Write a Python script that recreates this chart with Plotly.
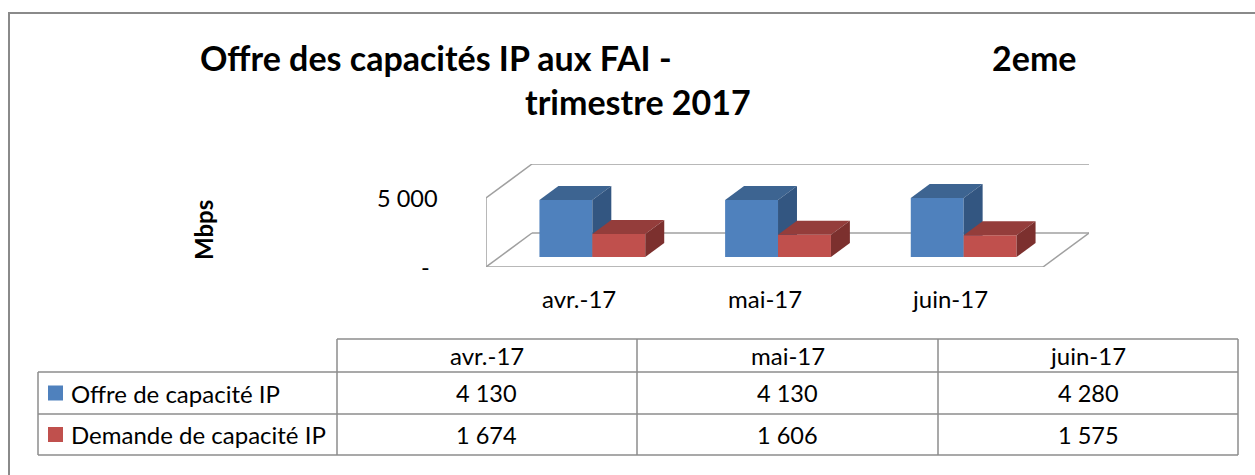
import plotly.graph_objects as go

# ---------------- data ----------------
categories = ["avr.-17", "mai-17", "juin-17"]
series_names = ["Offre de capacité IP", "Demande de capacité IP"]
offre = [4130, 4130, 4280]
demande = [1674, 1606, 1575]
value_tick_vals = [0, 5000]
value_tick_text = ["-", "5 000"]
title_line1_left = "Offre des capacités IP aux FAI -"
title_line1_right = "2eme"
title_line2 = "trimestre 2017"
axis_title = "Mbps"

# ---------------- styling / geometry ----------------
FIG_W, FIG_H = 1255, 475
FONT = "Lato"
TXT = 24
NUM = 23.5
TITLE = 34
front_colors = ["#4F81BD", "#C0504D"]
top_colors = ["#3D6491", "#943D3B"]
side_colors = ["#335681", "#7C302E"]
WALL_COLOR = "#A0A0A0"
GRID_COLOR = "#8C8C8C"

FRONT_LEFT, FRONT_RIGHT = 486, 1043
FLOOR_Y, TOP_FRONT_Y = 267, 198
DEPTH_DX, DEPTH_DY = 46, 34
VMAX = 5000
ncat = len(categories)
cat_w = (FRONT_RIGHT - FRONT_LEFT) / ncat
k = (FLOOR_Y - TOP_FRONT_Y) / VMAX
DXu = DEPTH_DX / cat_w
DYu = DEPTH_DY / k
D0, D1 = 0.294, 0.706
BW = 0.285


def px(x):
    return x / FIG_W


def py(y):
    return 1 - y / FIG_H


def P(x, v, d):
    return (x + d * DXu, v + d * DYu)


fig = go.Figure()

# walls / floor outline
segs = [
    ((0, 0, 0), (0, VMAX, 0)),
    ((0, VMAX, 0), (0, VMAX, 1)),
    ((0, 0, 0), (0, 0, 1)),
    ((0, VMAX, 1), (ncat, VMAX, 1)),
    ((0, 0, 1), (ncat, 0, 1)),
    ((0, 0, 0), (ncat, 0, 0)),
    ((ncat, 0, 0), (ncat, 0, 1)),
]
wx, wy = [], []
for a, b in segs:
    pa, pb = P(*a), P(*b)
    wx += [pa[0], pb[0], None]
    wy += [pa[1], pb[1], None]
fig.add_trace(go.Scatter(x=wx, y=wy, mode="lines",
                         line=dict(color=WALL_COLOR, width=1.5),
                         hoverinfo="skip", showlegend=False))


def add_poly(pts, color, name):
    xs = [p[0] for p in pts] + [pts[0][0]]
    ys = [p[1] for p in pts] + [pts[0][1]]
    fig.add_trace(go.Scatter(x=xs, y=ys, mode="lines", fill="toself",
                             fillcolor=color, line=dict(width=0, color=color),
                             name=name, hoverinfo="skip", showlegend=False))


series = [offre, demande]
for i in range(ncat):
    for s, vals in enumerate(series):
        v = vals[i]
        x0 = i + 0.5 - BW + s * BW
        x1 = x0 + BW
        front = [P(x0, 0, D0), P(x1, 0, D0), P(x1, v, D0), P(x0, v, D0)]
        top = [P(x0, v, D0), P(x1, v, D0), P(x1, v, D1), P(x0, v, D1)]
        side = [P(x1, 0, D0), P(x1, 0, D1), P(x1, v, D1), P(x1, v, D0)]
        add_poly(front, front_colors[s], series_names[s])
        add_poly(top, top_colors[s], series_names[s])
        add_poly(side, side_colors[s], series_names[s])

annotations = []
shapes = []

# title
annotations.append(dict(text="<b>" + title_line1_left + "</b>", xref="paper", yref="paper",
                        x=px(198), y=py(57), xanchor="left", yanchor="middle",
                        showarrow=False, font=dict(family=FONT, size=TITLE, color="black")))
annotations.append(dict(text="<b>" + title_line1_right + "</b>", xref="paper", yref="paper",
                        x=px(1079), y=py(57), xanchor="right", yanchor="middle",
                        showarrow=False, font=dict(family=FONT, size=TITLE, color="black")))
annotations.append(dict(text="<b>" + title_line2 + "</b>", xref="paper", yref="paper",
                        x=px(638), y=py(102), xanchor="center", yanchor="middle",
                        showarrow=False, font=dict(family=FONT, size=TITLE, color="black")))

# axis title
annotations.append(dict(text="<b>" + axis_title + "</b>", xref="paper", yref="paper",
                        x=px(204), y=py(230), xanchor="center", yanchor="middle", textangle=-90,
                        showarrow=False, font=dict(family=FONT, size=TXT, color="black")))

# value tick labels
tick_right = {0: 432, 5000: 440}
for tv, tt in zip(value_tick_vals, value_tick_text):
    annotations.append(dict(text=tt, xref="paper", yref="y", x=px(tick_right.get(tv, 440)), y=tv,
                            xanchor="right", yanchor="middle", showarrow=False,
                            font=dict(family=FONT, size=NUM, color="black")))

# category labels
for i, c in enumerate(categories):
    annotations.append(dict(text=c, xref="x", yref="paper", x=i + 0.5, y=py(298),
                            xanchor="center", yanchor="middle", showarrow=False,
                            font=dict(family=FONT, size=TXT, color="black")))

# data table
col_edges = [337, 637, 938, 1238]
row_lines = [339, 372, 414, 455]
TABLE_LEFT = 38
line_style = dict(color=GRID_COLOR, width=1.5)
shapes.append(dict(type="line", xref="paper", yref="paper", x0=px(col_edges[0]), x1=px(col_edges[-1]),
                   y0=py(row_lines[0]), y1=py(row_lines[0]), line=line_style))
for ry in row_lines[1:]:
    shapes.append(dict(type="line", xref="paper", yref="paper", x0=px(TABLE_LEFT), x1=px(col_edges[-1]),
                       y0=py(ry), y1=py(ry), line=line_style))
shapes.append(dict(type="line", xref="paper", yref="paper", x0=px(TABLE_LEFT), x1=px(TABLE_LEFT),
                   y0=py(row_lines[1]), y1=py(row_lines[-1]), line=line_style))
for cx in col_edges:
    shapes.append(dict(type="line", xref="paper", yref="paper", x0=px(cx), x1=px(cx),
                       y0=py(row_lines[0]), y1=py(row_lines[-1]), line=line_style))

for j, c in enumerate(categories):
    cx = (col_edges[j] + col_edges[j + 1]) / 2
    annotations.append(dict(text=c, xref="paper", yref="paper", x=px(cx),
                            y=py((row_lines[0] + row_lines[1]) / 2), xanchor="center", yanchor="middle",
                            showarrow=False, font=dict(family=FONT, size=TXT, color="black")))


def fmt(v):
    return f"{v:,}".replace(",", " ")


for s, vals in enumerate(series):
    rc = (row_lines[s + 1] + row_lines[s + 2]) / 2
    shapes.append(dict(type="rect", xref="paper", yref="paper", x0=px(48), x1=px(63),
                       y0=py(rc - 7.5), y1=py(rc + 7.5), fillcolor=front_colors[s], line=dict(width=0)))
    annotations.append(dict(text=series_names[s], xref="paper", yref="paper", x=px(69), y=py(rc),
                            xanchor="left", yanchor="middle", showarrow=False,
                            font=dict(family=FONT, size=TXT, color="black")))
    for j, v in enumerate(vals):
        cx = (col_edges[j] + col_edges[j + 1]) / 2
        annotations.append(dict(text=fmt(v), xref="paper", yref="paper", x=px(cx), y=py(rc),
                                xanchor="center", yanchor="middle", showarrow=False,
                                font=dict(family=FONT, size=NUM, color="black")))

# outer chart border
shapes.append(dict(type="rect", xref="paper", yref="paper", x0=px(9), x1=1.05, y0=-0.05, y1=py(13),
                   line=dict(color="#8A8A8A", width=2), fillcolor="rgba(0,0,0,0)"))

fig.update_layout(
    width=FIG_W, height=FIG_H, margin=dict(l=0, r=0, t=0, b=0),
    paper_bgcolor="white", plot_bgcolor="white", showlegend=False,
    xaxis=dict(range=[0, ncat + DXu], domain=[px(FRONT_LEFT), px(FRONT_RIGHT + DEPTH_DX)],
               visible=False, fixedrange=True),
    yaxis=dict(range=[0, VMAX + DYu], domain=[py(FLOOR_Y), py(TOP_FRONT_Y - DEPTH_DY)],
               visible=False, fixedrange=True),
    annotations=annotations, shapes=shapes,
    font=dict(family=FONT),
)

fig.write_html("out.html", config={"displayModeBar": False},
               post_script="document.body.style.margin='0';")
